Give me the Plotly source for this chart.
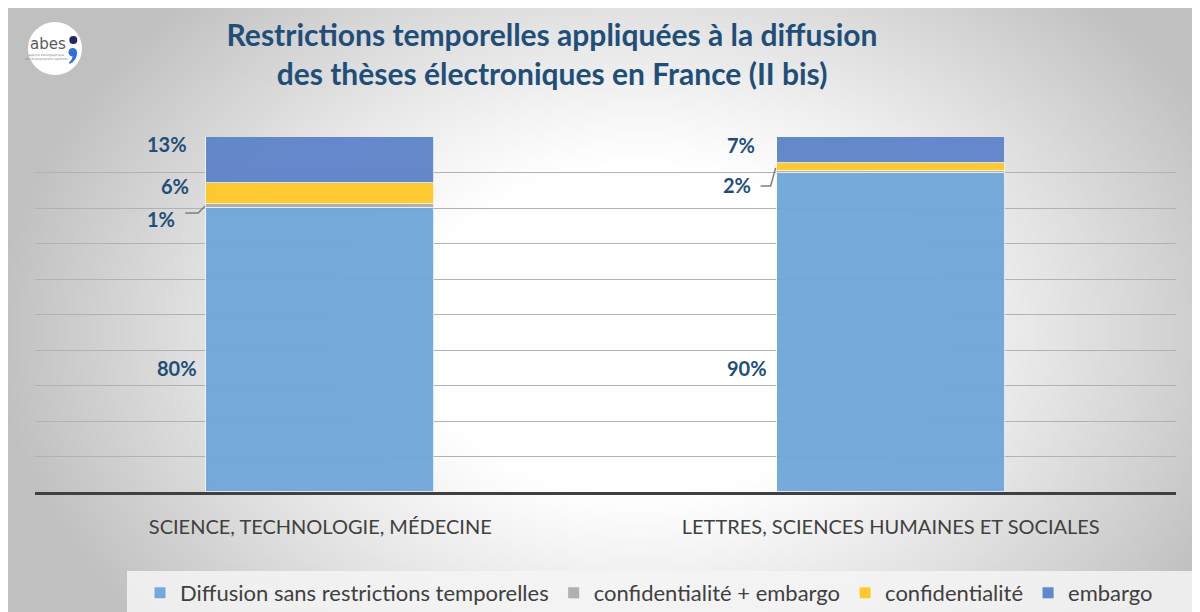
import base64
import struct
import zlib

import numpy as np
import plotly.graph_objects as go

# ---------------- data ----------------
categories = ["SCIENCE, TECHNOLOGIE, MÉDECINE", "LETTRES, SCIENCES HUMAINES ET SOCIALES"]
series_names = ["Diffusion sans restrictions temporelles", "confidentialité + embargo",
                "confidentialité", "embargo"]
diffusion = [80, 90]
confid_embargo = [1, 0.4]
confidentialite = [6, 2.3]
embargo = [13, 7.3]
series_values = [diffusion, confid_embargo, confidentialite, embargo]

title_lines = ["Restrictions temporelles appliquées à la diffusion",
               "des thèses électroniques en France (II bis)"]

# ---------------- style ----------------
W, H = 1200, 612
OFF = 8                                 # page offset of the figure (body margin)
L, R, T, B = 35, 1176, 137, 492         # plot area, page pixels
colors = ["#70A7DA", "#AEAEAE", "#FFC829", "#5F85CA"]
label_color = "#1F4E79"
text_color = "#404040"
FONT = "Lato"

# data-label placement: (x pixel shift from bar-left edge, y pixel shift down from segment top)
label_style = {
    (0, 0): (-7, 160), (1, 0): (-29, 15), (2, 0): (-15, 3), (3, 0): (-17, 7),
    (0, 1): (-8, 195), (2, 1): (-24, 22), (3, 1): (-20, 8),
}
# leader lines: pixel paths relative to (bar-left, segment top); +y is up
leader_style = {
    (1, 0): "M-21,-8.5 L-8,-8.5 L-1,-1.5",
    (2, 1): "M-16,-23 L-6,-23 L-1,-5",
}
bar_width = 0.4


def px2x(px):
    return (px - L) / (R - L)


def py2y(py):
    return (B - py) / (B - T)


def pt(px, py):
    return f"{px2x(px):.5f},{py2y(py):.5f}"


def png_gray(arr):
    h, w = arr.shape
    raw = b"".join(b"\x00" + arr[i].astype(np.uint8).tobytes() for i in range(h))

    def chunk(tag, data):
        c = struct.pack(">I", len(data)) + tag + data
        return c + struct.pack(">I", zlib.crc32(tag + data) & 0xFFFFFFFF)

    png = b"\x89PNG\r\n\x1a\n"
    png += chunk(b"IHDR", struct.pack(">IIBBBBB", w, h, 8, 0, 0, 0, 0))
    png += chunk(b"IDAT", zlib.compress(raw, 9))
    png += chunk(b"IEND", b"")
    return "data:image/png;base64," + base64.b64encode(png).decode()


# radial background gradient (like the Office chart fill), page coords
X0, Y0, X1, Y1 = 6, 6, W + OFF, H + OFF
gw, gh = 300, 152
gx = np.linspace(X0, X1, gw)
gy = np.linspace(Y0, Y1, gh)
XX, YY = np.meshgrid(gx, gy)
d = np.sqrt(((XX - 640) / 650) ** 2 + ((YY - 330) / 480) ** 2)
t = np.clip((d - 0.35) / 0.65, 0, 1)
bg = 255 - 63 * t ** 1.1
bg_src = png_gray(bg)

fig = go.Figure()
xs = list(range(len(categories)))
for name, vals, col in zip(series_names, series_values, colors):
    fig.add_trace(go.Bar(
        x=xs, y=vals, name=name, width=bar_width,
        marker=dict(color=col, line=dict(color="rgba(255,255,255,0.75)", width=1)),
        opacity=0.96, hoverinfo="skip",
    ))

annotations = []
shapes = []
cum = [0] * len(categories)
for si, vals in enumerate(series_values):
    for ci, v in enumerate(vals):
        top = cum[ci] + v
        key = (si, ci)
        if key in label_style:
            xs_, ys_ = label_style[key]
            annotations.append(dict(
                x=ci - bar_width / 2, y=top, xref="x", yref="y",
                text=f"{round(v)}%", showarrow=False,
                xanchor="right", yanchor="middle", xshift=xs_, yshift=-ys_,
                font=dict(family=FONT, size=20, color=label_color, weight="bold"),
            ))
        if key in leader_style:
            shapes.append(dict(
                type="path", xref="x", yref="y", xsizemode="pixel", ysizemode="pixel",
                xanchor=ci - bar_width / 2, yanchor=top, path=leader_style[key],
                line=dict(color="#7F7F7F", width=1.5),
            ))
        cum[ci] = top

# legend background box
shapes.append(dict(type="rect", xref="paper", yref="paper",
                   x0=px2x(127), x1=px2x(1192), y0=py2y(571), y1=py2y(620),
                   fillcolor="rgba(244,244,244,0.85)", line=dict(width=0), layer="below"))

# logo
shapes.append(dict(type="circle", xref="paper", yref="paper",
                   x0=px2x(28), x1=px2x(82), y0=py2y(75), y1=py2y(22),
                   fillcolor="white", line=dict(width=0)))
shapes.append(dict(type="circle", xref="paper", yref="paper",
                   x0=px2x(69.3), x1=px2x(77.3), y0=py2y(44), y1=py2y(36),
                   fillcolor="#1C2B5E", line=dict(width=0)))
shapes.append(dict(type="circle", xref="paper", yref="paper",
                   x0=px2x(68.5), x1=px2x(77), y0=py2y(56.5), y1=py2y(48),
                   fillcolor="#2E6FD8", line=dict(width=0)))
shapes.append(dict(type="path", xref="paper", yref="paper",
                   path=f"M{pt(77, 52)} Q{pt(77.5, 60)} {pt(69.5, 64)} "
                        f"L{pt(69, 62.5)} Q{pt(73, 59.5)} {pt(72.5, 54)} Z",
                   fillcolor="#2E6FD8", line=dict(width=0)))
annotations.append(dict(xref="paper", yref="paper", x=px2x(48), y=py2y(44),
                        text="abes", showarrow=False, xanchor="center", yanchor="middle",
                        font=dict(family="DejaVu Sans", size=15, color="#5A5A5A")))
annotations.append(dict(xref="paper", yref="paper", x=px2x(47), y=py2y(57),
                        text="agence bibliographique<br>de l'enseignement supérieur",
                        showarrow=False, xanchor="center", yanchor="middle",
                        font=dict(family="DejaVu Sans", size=3, color="#888888")))

fig.update_layout(
    width=W, height=H,
    margin=dict(l=L - OFF, r=W - (R - OFF), t=T - OFF, b=H - (B - OFF)),
    paper_bgcolor="white", plot_bgcolor="rgba(0,0,0,0)",
    barmode="stack", bargap=0,
    font=dict(family=FONT, color=text_color),
    title=dict(text="<br>".join(title_lines), xref="container", yref="container",
               x=(552 - OFF) / W, y=1 - 38 / H, xanchor="center", yanchor="middle",
               font=dict(family=FONT, size=30, color=label_color, weight="bold")),
    xaxis=dict(range=[-0.5, 1.5], tickvals=xs, ticktext=categories,
               showline=True, linecolor="#404040", linewidth=3, ticks="",
               showgrid=False, zeroline=False, ticklabelstandoff=15,
               tickfont=dict(family=FONT, size=20, color=text_color), fixedrange=True),
    yaxis=dict(range=[0, 100], dtick=10, showticklabels=False, showgrid=True,
               gridcolor="#B2B2B2", gridwidth=1, zeroline=False, fixedrange=True),
    legend=dict(orientation="h", xref="container", yref="container",
                x=(140 - OFF) / W, y=1 - (593 - OFF) / H, xanchor="left", yanchor="middle",
                bgcolor="rgba(0,0,0,0)", font=dict(family=FONT, size=22, color=text_color),
                itemwidth=30, traceorder="normal"),
    showlegend=True,
    images=[dict(source=bg_src, xref="paper", yref="paper",
                 x=px2x(X0), y=py2y(Y0), sizex=(X1 - X0) / (R - L), sizey=(Y1 - Y0) / (B - T),
                 xanchor="left", yanchor="top", sizing="stretch", layer="below")],
    annotations=annotations, shapes=shapes,
)

fig.write_html("out.html", config={"displayModeBar": False})
